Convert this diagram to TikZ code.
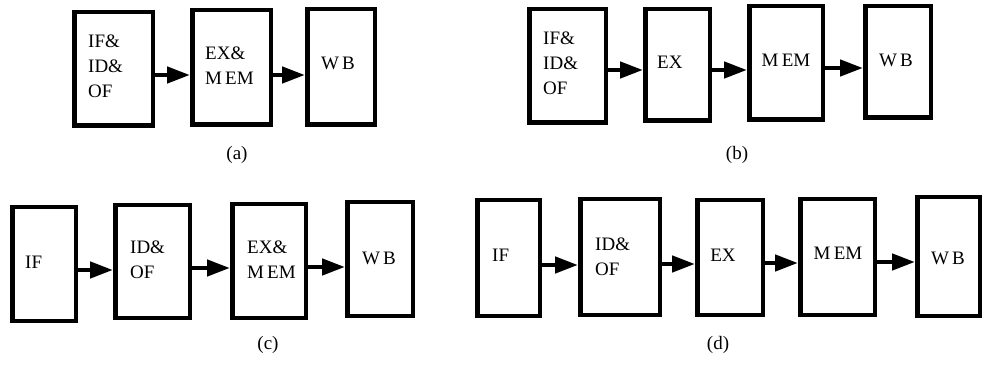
\documentclass[tikz,border=0pt]{standalone}
\usepackage{fontspec}
\setmainfont{Liberation Serif}
\usetikzlibrary{arrows.meta}

% A pipeline stage: outer edges x1,y1 (top left) and x2,y2 (bottom right)
\newcommand\stagebox[5]{%
  \node[stg, minimum width={#4pt-#2pt-4.5pt}, minimum height={#5pt-#3pt-4.5pt}]
    (#1) at ({(#2+#4)/2},{(#3+#5)/2}) {};}

\begin{document}
\begin{tikzpicture}[x=1pt, y=-1pt,
  stg/.style={draw, line width=4.5pt, inner sep=0pt, fill=white},
  lbl/.style={font=\fontsize{19}{25}\selectfont, inner sep=0pt, align=left},
  subcap/.style={font=\fontsize{19}{23}\selectfont, inner sep=0pt},
  flow/.style={line width=4.5pt, -{Triangle[length=23pt,width=16pt]}}]

\useasboundingbox (0,0) rectangle (983,374);

% (a) three stages
\stagebox{a1}{72}{10}{155}{128}
\stagebox{a2}{190}{8}{273}{127}
\stagebox{a3}{305}{7}{377}{127}
\node[lbl, anchor=west] (ta1) at (88,66) {IF\&\\ID\&\\OF};
\node[lbl, anchor=west] (ta2) at (205,66) {EX\&\\M\,EM};
\node[lbl] (ta3) at (338,63) {W\,B};
\coordinate (ya) at (0,75);
\draw[flow] (a1.east |- ya) -- (a2.west |- ya);
\draw[flow] (a2.east |- ya) -- (a3.west |- ya);
\node[subcap] (ca) at (237,155) {(a)};

% (b) four stages
\stagebox{b1}{527}{7}{608}{125}
\stagebox{b2}{643}{7}{712}{123}
\stagebox{b3}{747}{4}{825}{122}
\stagebox{b4}{863}{4}{933}{120}
\node[lbl, anchor=west] (tb1) at (543,63) {IF\&\\ID\&\\OF};
\node[lbl, anchor=west] (tb2) at (657,62) {EX};
\node[lbl] (tb3) at (786,60) {M\,EM};
\node[lbl] (tb4) at (896,60) {W\,B};
\coordinate (yb1) at (0,70);
\coordinate (yb2) at (0,68);
\draw[flow] (b1.east |- yb1) -- (b2.west |- yb1);
\draw[flow] (b2.east |- yb1) -- (b3.west |- yb1);
\draw[flow] (b3.east |- yb2) -- (b4.west |- yb2);
\node[subcap] (cb) at (737,155) {(b)};

% (c) four stages
\stagebox{c1}{10}{205}{78}{323}
\stagebox{c2}{113}{203}{192}{320}
\stagebox{c3}{230}{202}{308}{320}
\stagebox{c4}{345}{200}{415}{318}
\node[lbl, anchor=west] (tc1) at (25,262) {IF};
\node[lbl, anchor=west] (tc2) at (130,260) {ID\&\\OF};
\node[lbl, anchor=west] (tc3) at (247,260) {EX\&\\M\,EM};
\node[lbl] (tc4) at (379,258) {W\,B};
\coordinate (yc1) at (0,270);
\coordinate (yc2) at (0,268);
\coordinate (yc3) at (0,267);
\draw[flow] (c1.east |- yc1) -- (c2.west |- yc1);
\draw[flow] (c2.east |- yc2) -- (c3.west |- yc2);
\draw[flow] (c3.east |- yc3) -- (c4.west |- yc3);
\node[subcap] (cc) at (268,345) {(c)};

% (d) five stages
\stagebox{d1}{475}{198}{542}{318}
\stagebox{d2}{578}{197}{662}{317}
\stagebox{d3}{695}{198}{765}{317}
\stagebox{d4}{798}{197}{877}{317}
\stagebox{d5}{915}{195}{982}{318}
\node[lbl, anchor=west] (td1) at (492,255) {IF};
\node[lbl, anchor=west] (td2) at (595,257) {ID\&\\OF};
\node[lbl] (td3) at (723,255) {EX};
\node[lbl] (td4) at (838,253) {M\,EM};
\node[lbl] (td5) at (948,258) {W\,B};
\coordinate (yd1) at (0,265);
\coordinate (yd2) at (0,264);
\coordinate (yd3) at (0,263);
\coordinate (yd4) at (0,262);
\draw[flow] (d1.east |- yd1) -- (d2.west |- yd1);
\draw[flow] (d2.east |- yd2) -- (d3.west |- yd2);
\draw[flow] (d3.east |- yd3) -- (d4.west |- yd3);
\draw[flow] (d4.east |- yd4) -- (d5.west |- yd4);
\node[subcap] (cd) at (718,345) {(d)};
\end{tikzpicture}
\end{document}
